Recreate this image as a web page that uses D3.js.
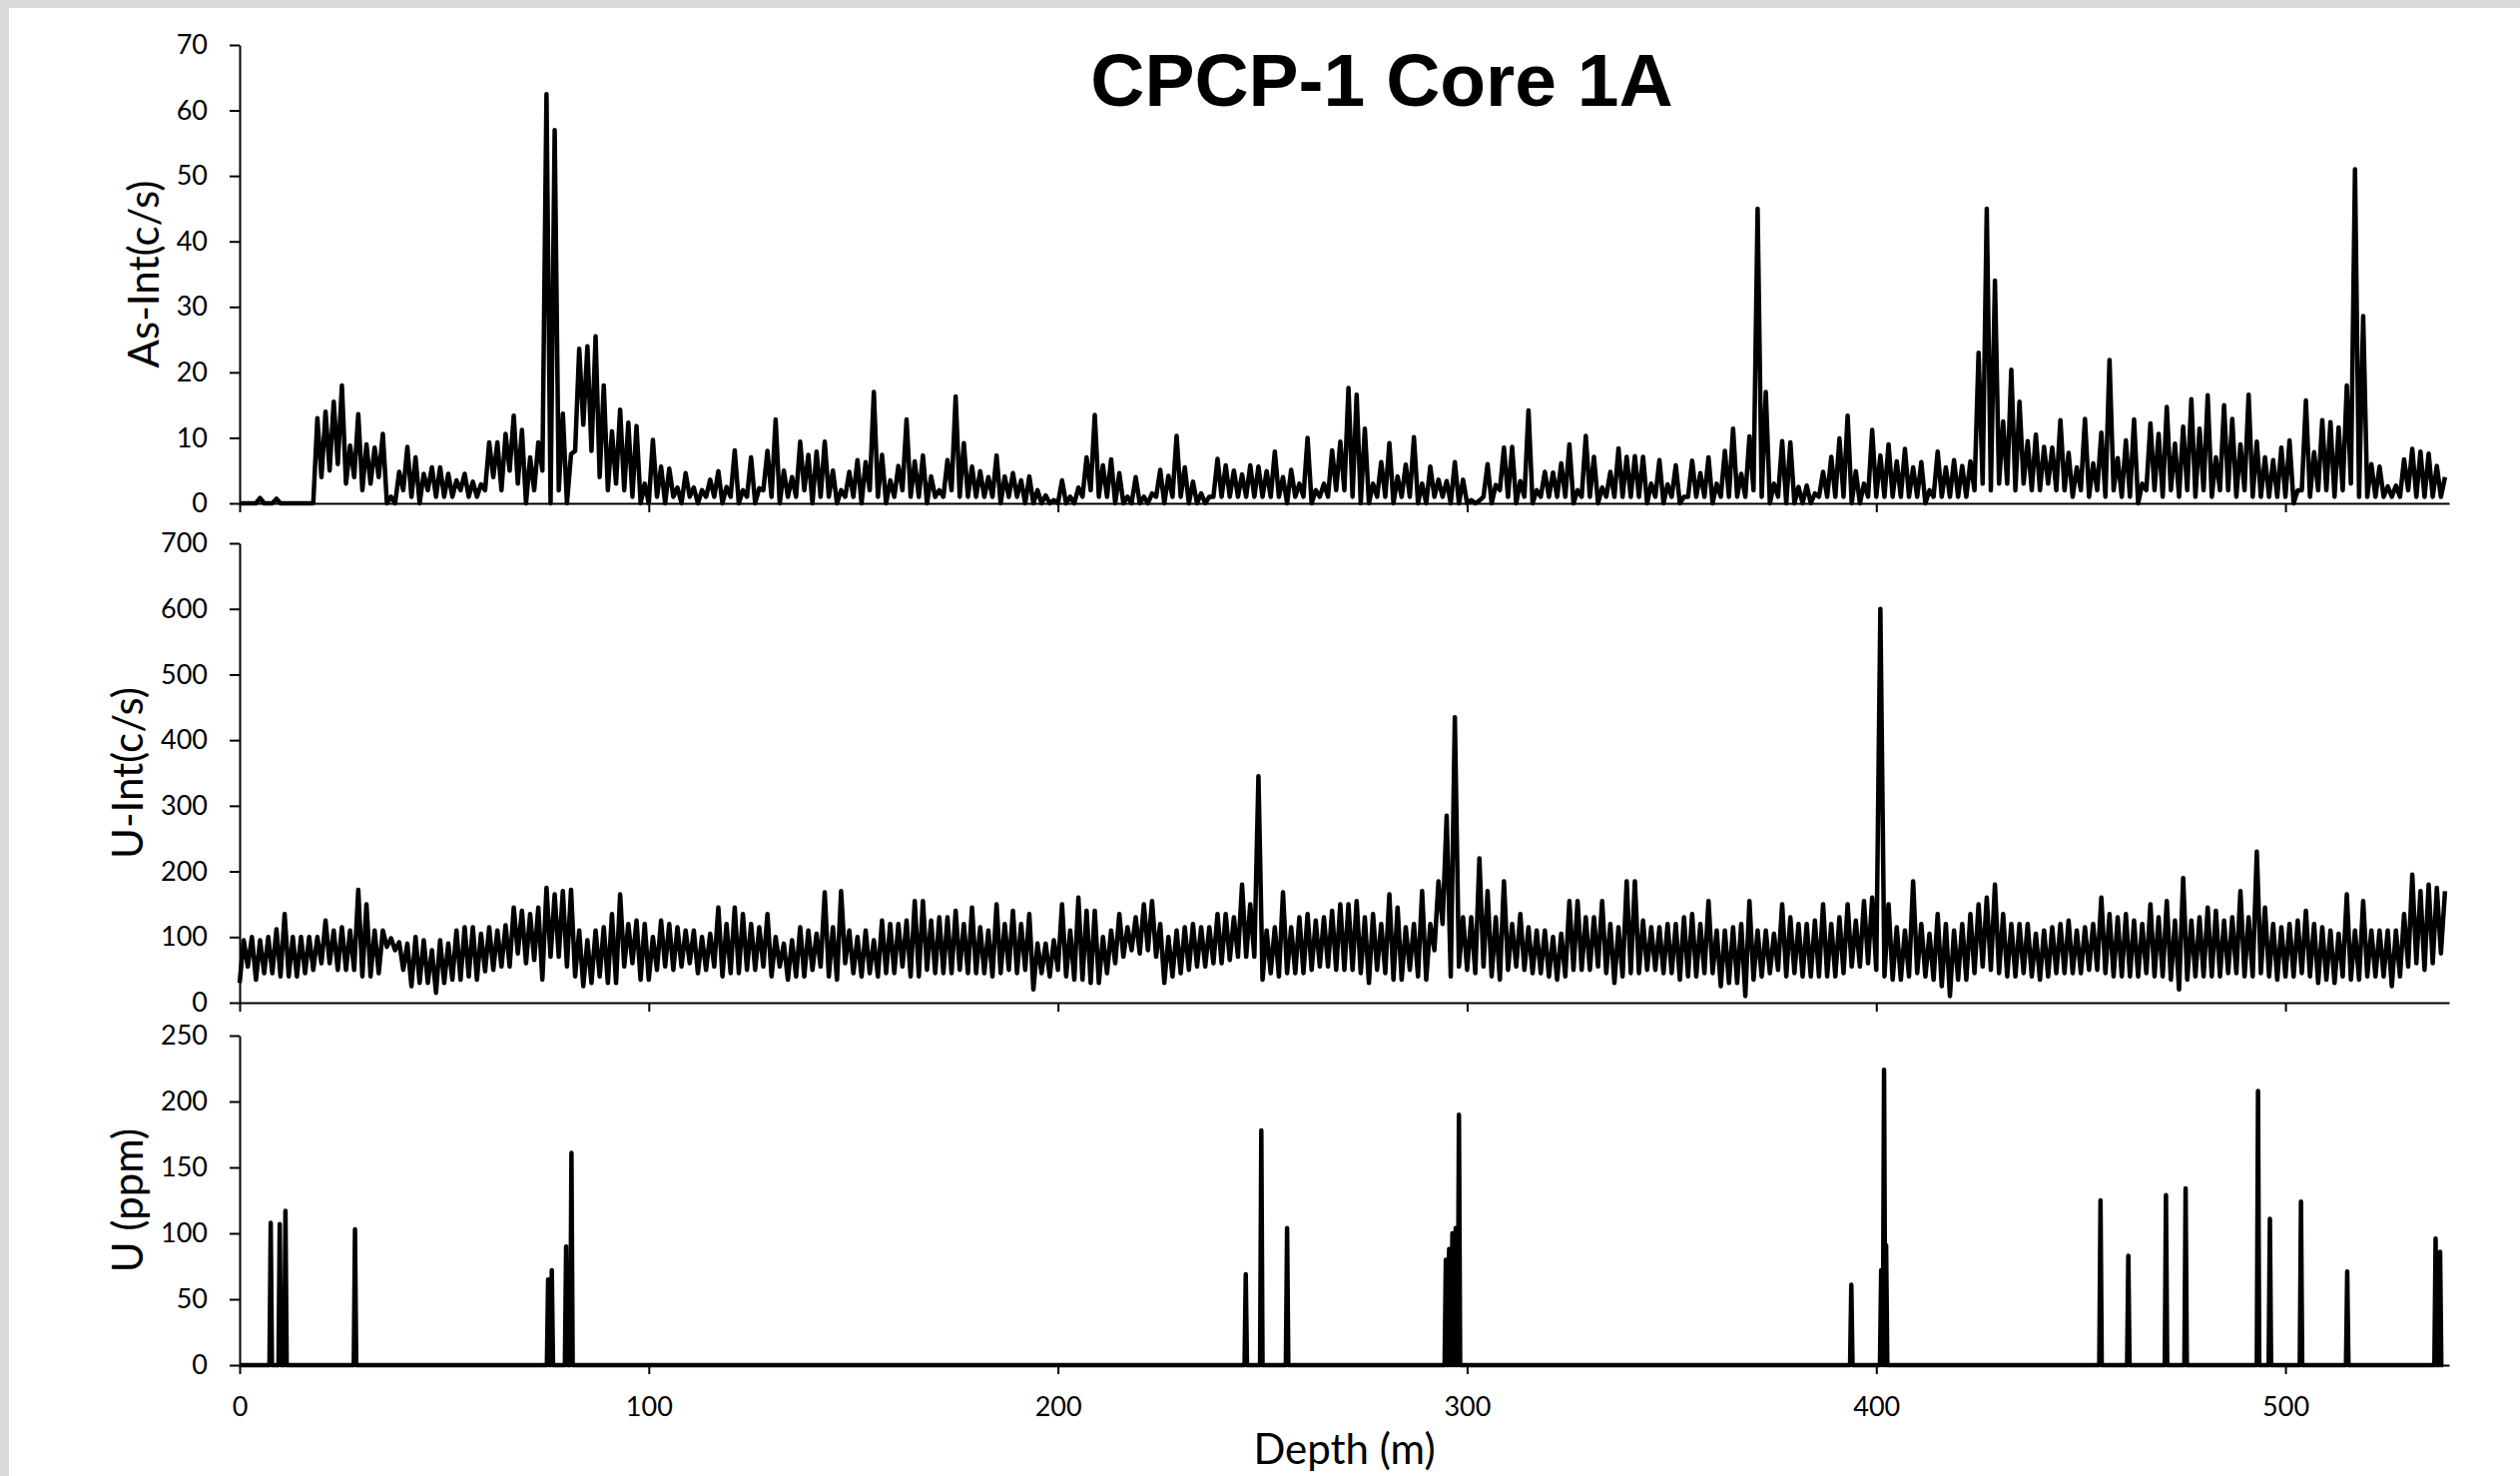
<!DOCTYPE html>
<html>
<head>
<meta charset="utf-8">
<title>CPCP-1 Core 1A</title>
<style>
    body { margin: 0; background: #fff; }
    svg { display: block; }
    .tick text { font-family: Lato, "Noto Sans", sans-serif; font-size: 27px; fill: #000; }
    .axis path, .axis line { stroke: #000; stroke-width: 2px; }
    .series { fill: none; stroke: #000; stroke-width: 4.5px; stroke-linejoin: round; }
    .ytitle, .xtitle { font-family: Lato, "Noto Sans", sans-serif; font-size: 42px; fill: #000; }
    .title { font-family: "Liberation Sans", Arial, sans-serif; font-weight: bold; font-size: 75px; fill: #000; }
</style>
</head>
<body>
<svg width="2524" height="1478"></svg>

<script src="https://cdn.jsdelivr.net/npm/d3@7/dist/d3.min.js"></script>
<script>

// depth bins are 2 m wide: a trough (low) at the bin start, a peak (high) 1 m later
var binStep = 2;
var depthTicks = [0, 100, 200, 300, 400, 500];
var asTicks = [0, 10, 20, 30, 40, 50, 60, 70];
var uIntTicks = [0, 100, 200, 300, 400, 500, 600, 700];
var uPpmTicks = [0, 50, 100, 150, 200, 250];

// As-Int (c/s), upper envelope per bin
var asHigh = [
    0, 0, 0.8, 0, 0.7, 0, 0, 0, 0, 13,
    14, 15.5, 18, 8.8, 13.6, 9, 8.5, 10.6, 1, 4.8,
    8.6, 7, 4.5, 5.5, 5.5, 4.5, 3.5, 4.5, 3.3, 2.9,
    9.3, 9.3, 10.6, 13.4, 11.2, 7, 9.3, 62.5, 57, 13.7,
    7.5, 23.6, 24, 25.5, 18, 11, 14.3, 12.3, 11.8, 3,
    9.7, 5.6, 5.3, 2.4, 4.6, 2.4, 2, 3.6, 4.9, 2.5,
    8.1, 2, 7, 2.3, 8, 12.8, 5, 4, 9.4, 7.4,
    7.9, 9.4, 5, 2, 4.8, 6.6, 6.3, 17, 7.4, 3.5,
    5.7, 12.8, 6.4, 7.3, 4.1, 2, 6.6, 16.3, 9.2, 5.6,
    4.9, 4, 7.3, 4.1, 4.6, 3.5, 4.1, 2, 1.2, 0.5,
    3.5, 1, 2.4, 7, 13.5, 5.8, 6.7, 4.6, 1, 4,
    1, 1.5, 5.1, 4.2, 10.3, 5.5, 3.3, 1.5, 1, 6.8,
    5.8, 5, 4.4, 5.8, 5.6, 4.9, 7.9, 4, 5.1, 3,
    10, 2, 3, 8.1, 9.4, 17.6, 16.6, 11.4, 3, 6.3,
    9.2, 4.1, 5.9, 10.1, 3, 5.6, 3.6, 3.4, 6.3, 3.6,
    0.5, 0.4, 6, 2.8, 8.5, 8.6, 3.4, 14.2, 2, 4.8,
    4.7, 6.1, 9, 2, 10.3, 7.1, 2.4, 4.8, 8.4, 7.1,
    7.2, 7.1, 3, 6.6, 2.9, 5.8, 1, 6.5, 4.6, 7,
    3, 8, 11.4, 4.5, 10.2, 45, 17, 3, 9.5, 9.3,
    2.5, 2.7, 1.5, 4.8, 7.1, 9.9, 13.4, 4.9, 3, 11.2,
    7.3, 9, 6.4, 8.3, 5.5, 6.3, 2, 7.9, 5.5, 6.6,
    5.7, 6.4, 23, 45, 34, 12.5, 20.4, 15.5, 9.5, 10.5,
    8.6, 8.5, 12.7, 7.7, 5.5, 12.9, 6.1, 10.8, 21.9, 6.9,
    9.6, 12.8, 3, 12.2, 10.6, 14.7, 9.1, 11.7, 15.9, 11.4,
    16.5, 7, 15, 12.9, 9, 16.6, 9.4, 7, 6.6, 8.5,
    9.6, 2, 15.7, 7.8, 12.7, 12.4, 11.6, 18, 51, 28.6,
    6, 5.6, 2.6, 2.7, 6.7, 8.3, 7.9, 7.6, 5.7, 4
];

// As-Int (c/s), lower envelope per bin
var asLow = [
    0, 0, 0, 0, 0, 0, 0, 0, 0, 0,
    4, 5, 6, 3, 4, 2, 3, 4, 0, 0,
    2, 1, 0, 2, 1, 1, 1, 2, 1, 1,
    2, 4, 2, 5, 3, 0, 2, 5, 0, 2,
    0, 8, 12, 8, 4, 2, 3, 2, 1, 0,
    0, 1, 0, 1, 0, 1, 0, 1, 1, 0,
    1, 0, 1, 0, 2, 1, 0, 1, 1, 2,
    0, 1, 1, 0, 1, 1, 0, 2, 1, 0,
    1, 2, 1, 1, 0, 1, 1, 2, 1, 1,
    1, 1, 1, 0, 1, 1, 0, 0, 0, 0,
    0, 0, 0, 1, 2, 1, 1, 0, 0, 0,
    0, 0, 1, 0, 1, 1, 0, 0, 0, 1,
    1, 1, 1, 1, 1, 1, 1, 1, 0, 1,
    1, 0, 1, 1, 2, 2, 1, 0, 0, 1,
    1, 0, 1, 1, 0, 0, 1, 1, 0, 0,
    0, 0, 1, 0, 2, 1, 0, 1, 0, 1,
    1, 1, 1, 0, 1, 1, 0, 1, 1, 1,
    1, 1, 0, 1, 0, 1, 0, 1, 1, 1,
    0, 1, 1, 1, 1, 2, 1, 0, 1, 0,
    0, 0, 0, 1, 1, 1, 1, 0, 0, 1,
    1, 1, 1, 1, 1, 1, 0, 1, 1, 1,
    1, 1, 2, 3, 2, 3, 3, 2, 3, 2,
    2, 3, 2, 2, 1, 2, 1, 2, 1, 2,
    1, 1, 0, 2, 2, 1, 2, 1, 2, 1,
    2, 1, 2, 2, 1, 2, 1, 1, 1, 1,
    1, 0, 2, 1, 2, 2, 1, 2, 3, 1,
    1, 1, 1, 1, 1, 2, 1, 1, 1, 1
];

// U-Int (c/s), upper envelope per bin
var uIntHigh = [
    95, 100, 95, 100, 112, 135, 100, 100, 100, 100,
    125, 110, 115, 110, 172, 150, 110, 110, 98, 92,
    90, 100, 95, 80, 95, 90, 110, 115, 115, 105,
    115, 110, 118, 145, 140, 135, 145, 175, 165, 170,
    172, 110, 95, 110, 115, 135, 165, 120, 125, 120,
    100, 125, 120, 115, 110, 110, 100, 105, 145, 120,
    145, 135, 120, 115, 135, 100, 90, 95, 115, 110,
    105, 168, 115, 170, 110, 100, 110, 95, 125, 120,
    120, 125, 155, 155, 125, 130, 130, 140, 120, 145,
    115, 110, 150, 120, 140, 120, 135, 90, 90, 95,
    150, 110, 160, 140, 140, 100, 110, 135, 115, 130,
    150, 155, 120, 100, 110, 115, 120, 115, 115, 135,
    135, 130, 180, 150, 345, 110, 115, 168, 115, 130,
    135, 125, 130, 140, 150, 150, 155, 130, 135, 120,
    165, 145, 115, 120, 170, 120, 185, 285, 435, 130,
    130, 220, 170, 130, 185, 120, 135, 115, 110, 110,
    100, 105, 155, 155, 130, 130, 155, 120, 115, 185,
    185, 125, 115, 115, 120, 120, 130, 135, 120, 155,
    110, 110, 115, 120, 155, 110, 110, 105, 150, 130,
    120, 120, 125, 150, 120, 130, 150, 125, 155, 160,
    600, 150, 115, 110, 185, 120, 105, 135, 120, 110,
    120, 135, 150, 160, 180, 135, 120, 120, 120, 105,
    110, 115, 120, 125, 110, 115, 120, 160, 135, 130,
    135, 125, 120, 150, 130, 155, 125, 190, 125, 130,
    145, 140, 125, 130, 170, 130, 230, 145, 120, 115,
    120, 125, 140, 120, 115, 110, 105, 165, 110, 155,
    110, 110, 110, 110, 135, 195, 170, 180, 175, 170
];

// U-Int (c/s), lower envelope per bin
var uIntLow = [
    30, 55, 35, 45, 45, 40, 40, 40, 45, 50,
    60, 60, 50, 50, 50, 40, 40, 45, 85, 80,
    50, 25, 30, 30, 15, 30, 35, 35, 40, 35,
    48, 50, 55, 55, 75, 60, 65, 35, 70, 70,
    55, 40, 25, 30, 40, 30, 30, 55, 60, 35,
    35, 50, 55, 50, 55, 60, 45, 50, 55, 40,
    45, 45, 50, 50, 55, 40, 55, 35, 40, 40,
    50, 55, 40, 35, 60, 45, 40, 45, 40, 45,
    45, 55, 40, 40, 50, 45, 45, 45, 50, 45,
    45, 45, 40, 45, 50, 45, 50, 20, 45, 40,
    50, 40, 35, 35, 30, 30, 45, 60, 70, 80,
    75, 80, 70, 30, 40, 45, 50, 55, 55, 60,
    60, 65, 70, 70, 70, 35, 45, 40, 45, 45,
    45, 50, 55, 55, 50, 50, 50, 45, 30, 50,
    45, 35, 35, 50, 40, 35, 80, 120, 40, 55,
    50, 45, 55, 40, 35, 50, 55, 50, 45, 45,
    40, 35, 40, 50, 50, 50, 55, 45, 30, 40,
    45, 45, 50, 50, 45, 45, 35, 40, 40, 45,
    45, 25, 30, 30, 10, 35, 40, 45, 50, 40,
    45, 40, 40, 40, 40, 40, 45, 55, 55, 60,
    50, 40, 35, 35, 40, 45, 40, 35, 25, 10,
    35, 35, 45, 55, 50, 45, 40, 40, 45, 40,
    35, 40, 45, 45, 45, 45, 50, 50, 45, 40,
    40, 40, 40, 45, 40, 40, 35, 20, 35, 40,
    40, 40, 40, 45, 45, 40, 40, 45, 40, 35,
    40, 40, 45, 40, 30, 35, 30, 40, 35, 35,
    40, 40, 40, 25, 40, 55, 60, 50, 60, 75
];

// U (ppm): zero everywhere except these peaks
var uPpmDepth = [7.6, 9.8, 11.2, 28.2, 75.4, 76.3, 79.8, 81.1, 245.9, 249.7, 256.0,
    294.8, 295.6, 296.4, 297.2, 298.0, 393.9, 401.2, 401.9, 402.4, 454.8, 461.6,
    470.8, 475.6, 493.3, 496.2, 503.8, 515.1, 536.7, 537.8];
var uPpmPeak = [108, 107, 117, 103, 65, 72, 90, 161, 69, 178, 104,
    80, 88, 100, 104, 190, 61, 72, 224, 91, 125, 83,
    129, 134, 208, 111, 124, 71, 96, 86];
var uPpmEnd = 538.5;

var svg = d3.select('svg');

// grey frame on the top and left edge
svg.append('rect').attr('width', 2524).attr('height', 1478).attr('fill', '#d9d9d9');
svg.append('rect').attr('x', 9).attr('y', 8).attr('width', 2515).attr('height', 1470).attr('fill', '#fff');

var x = d3.scaleLinear().domain([0, 540]).range([240, 2453]);

function zigzag(hi, lo) {
    var pts = [];
    hi.forEach(function(h, k) {
        pts.push([k * binStep, lo[k]]);
        pts.push([k * binStep + binStep / 2, h]);
    });
    return pts;
}

function spikes() {
    var pts = [[0, 0]];
    uPpmDepth.forEach(function(d, i) {
        pts.push([d - 0.3, 0], [d, uPpmPeak[i]], [d + 0.3, 0]);
    });
    pts.push([uPpmEnd, 0]);
    return pts;
}

var panels = [
    { title: 'As-Int(c/s)', ticks: asTicks, max: 70,  top: 45,  bottom: 504,  titleX: 145, labels: false, pts: zigzag(asHigh, asLow) },
    { title: 'U-Int(c/s)',  ticks: uIntTicks, max: 700, top: 544, bottom: 1004, titleX: 129, labels: false, pts: zigzag(uIntHigh, uIntLow) },
    { title: 'U (ppm)',     ticks: uPpmTicks, max: 250, top: 1037, bottom: 1367, titleX: 129, labels: true, pts: spikes() }
];

panels.forEach(function(p) {
    var y = d3.scaleLinear().domain([0, p.max]).range([p.bottom, p.top]);
    var g = svg.append('g');

    var xAxis = d3.axisBottom(x).tickValues(depthTicks).tickSize(9).tickSizeOuter(0).tickPadding(23);
    if (!p.labels) xAxis.tickFormat('');
    g.append('g').attr('class', 'axis')
        .attr('transform', 'translate(0,' + p.bottom + ')')
        .call(xAxis);

    g.append('g').attr('class', 'axis')
        .attr('transform', 'translate(' + x(0) + ',0)')
        .call(d3.axisLeft(y).tickValues(p.ticks).tickSize(10).tickSizeOuter(0).tickPadding(22));

    g.append('path')
        .attr('class', 'series')
        .attr('d', d3.line()
            .x(function(d) { return x(d[0]); })
            .y(function(d) { return y(d[1]); })(p.pts));

    g.append('text')
        .attr('class', 'ytitle')
        .attr('text-anchor', 'middle')
        .attr('transform', 'translate(' + p.titleX + ',' + (p.top + p.bottom) / 2 + ') rotate(-90)')
        .attr('dy', '0.33em')
        .text(p.title);
});

svg.append('text')
    .attr('class', 'xtitle')
    .attr('text-anchor', 'middle')
    .attr('x', (x(0) + x(540)) / 2)
    .attr('y', 1466)
    .text('Depth (m)');

svg.append('text')
    .attr('class', 'title')
    .attr('text-anchor', 'middle')
    .attr('x', 1384)
    .attr('y', 106)
    .text('CPCP-1 Core 1A');

</script>
</body>
</html>
